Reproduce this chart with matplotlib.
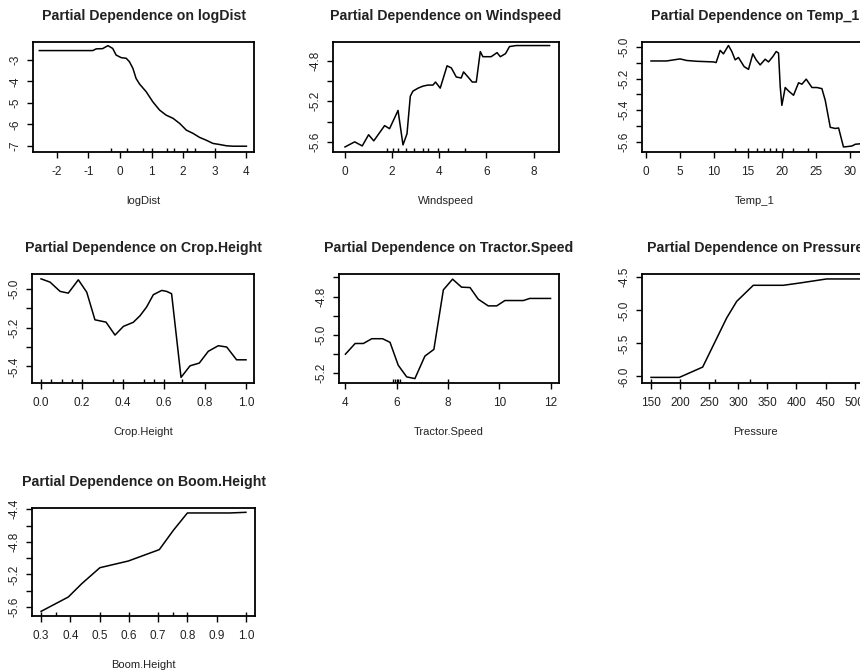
import matplotlib
matplotlib.use('Agg')
import matplotlib.pyplot as plt

plt.rcParams['font.family'] = ['Liberation Sans', 'DejaVu Sans']

# partial dependence curves
logdist_x = [-2.55, -0.86, -0.75, -0.55, -0.44, -0.38, -0.23, -0.12, 0.04, 0.2, 0.3, 0.41,
             0.51, 0.62, 0.83, 1.04, 1.25, 1.46, 1.68, 1.89, 2.1, 2.31, 2.52, 2.73, 2.94,
             3.15, 3.37, 3.58, 4.0]
logdist_y = [-2.56, -2.56, -2.48, -2.47, -2.38, -2.33, -2.46, -2.77, -2.89, -2.92, -3.08, -3.39,
             -3.86, -4.12, -4.48, -4.95, -5.33, -5.57, -5.72, -5.96, -6.27, -6.42, -6.61, -6.74,
             -6.89, -6.94, -7.0, -7.02, -7.02]
logdist_rug = [-0.28, 0.23, 0.72, 1.02, 1.5, 1.7, 2.12, 2.37, 3.0]

wind_x = [0.0, 0.41, 0.73, 1.0, 1.22, 1.68, 1.89, 2.25, 2.46, 2.63, 2.77, 2.88, 3.1, 3.31,
          3.52, 3.73, 3.84, 4.04, 4.33, 4.51, 4.72, 4.93, 5.03, 5.22, 5.4, 5.57, 5.74, 5.85,
          6.2, 6.45, 6.59, 6.81, 6.98, 7.26, 8.68]
wind_y = [-5.65, -5.60, -5.64, -5.53, -5.59, -5.44, -5.47, -5.29, -5.63, -5.52, -5.15, -5.10,
          -5.07, -5.05, -5.04, -5.04, -5.01, -5.07, -4.85, -4.87, -4.96, -4.97, -4.91, -4.96,
          -5.01, -5.01, -4.71, -4.76, -4.76, -4.72, -4.76, -4.73, -4.66, -4.65, -4.65]
wind_rug = [1.77, 2.05, 2.25, 2.6, 2.92, 3.29, 3.5, 3.96, 4.38, 5.1]

temp_x = [0.78, 3.08, 5.04, 6.02, 7.49, 9.94, 10.33, 10.92, 11.4, 12.14, 12.63, 13.12, 13.6,
          14.44, 15.08, 15.71, 16.2, 16.79, 17.52, 18.01, 18.65, 19.14, 19.48, 19.73, 19.97,
          20.46, 20.95, 21.68, 22.42, 22.91, 23.54, 24.38, 25.1, 25.84, 26.33, 27.07, 27.8,
          28.29, 29.0, 29.5, 30.25, 30.74, 31.5]
temp_y = [-5.088, -5.088, -5.075, -5.085, -5.09, -5.094, -5.098, -5.021, -5.043, -4.99, -5.028,
          -5.081, -5.066, -5.124, -5.141, -5.043, -5.081, -5.113, -5.077, -5.094, -5.06, -5.028,
          -5.038, -5.252, -5.369, -5.256, -5.278, -5.305, -5.226, -5.235, -5.203, -5.256, -5.256,
          -5.263, -5.337, -5.508, -5.515, -5.512, -5.632, -5.63, -5.626, -5.615, -5.612]
temp_rug = [13.1, 15.0, 16.3, 17.3, 18.3, 19.1, 20.2, 21.6, 23.8]

crop_x = [0.0, 0.044, 0.093, 0.133, 0.182, 0.223, 0.263, 0.317, 0.361, 0.402, 0.45, 0.483,
          0.515, 0.548, 0.589, 0.613, 0.637, 0.683, 0.727, 0.772, 0.816, 0.865, 0.906, 0.954, 1.0]
crop_y = [-4.947, -4.964, -5.012, -5.021, -4.952, -5.016, -5.159, -5.171, -5.238, -5.193, -5.172,
          -5.138, -5.093, -5.029, -5.007, -5.012, -5.024, -5.457, -5.397, -5.383, -5.322, -5.293,
          -5.3, -5.366, -5.366]
crop_rug = [0.0, 0.05, 0.1, 0.15, 0.2, 0.35, 0.4, 0.5, 0.55, 0.6, 0.69]

tractor_x = [4.0, 4.38, 4.7, 5.03, 5.45, 5.74, 6.06, 6.39, 6.71, 7.1, 7.45, 7.82, 8.18, 8.53,
             8.86, 9.18, 9.57, 9.9, 10.22, 10.94, 11.19, 12.0]
tractor_y = [-5.102, -5.046, -5.046, -5.021, -5.021, -5.04, -5.16, -5.221, -5.23, -5.112, -5.077,
             -4.765, -4.709, -4.751, -4.753, -4.814, -4.849, -4.849, -4.821, -4.821, -4.81, -4.81]
tractor_rug = [5.86, 5.93, 6.0, 6.07, 6.11, 8.0]

pressure_x = [150, 198.7, 238.8, 280, 297.3, 325.8, 377.4, 406, 451.8, 515]
pressure_y = [-6.015, -6.015, -5.859, -5.116, -4.864, -4.621, -4.621, -4.586, -4.525, -4.525]
pressure_rug = [150, 200, 260, 321]

boom_x = [0.3, 0.393, 0.439, 0.501, 0.598, 0.704, 0.752, 0.8, 0.945, 1.0]
boom_y = [-5.653, -5.477, -5.313, -5.117, -5.035, -4.895, -4.658, -4.445, -4.445, -4.437]
boom_rug = [0.3, 0.35, 0.5, 0.6, 0.7, 0.75, 0.8, 1.0]

W, H = 860, 670
fig = plt.figure(figsize=(W / 100, H / 100), dpi=100)
fig.patch.set_facecolor('white')

# name, x, y, rug, box px (left, top, right, bottom), xlim, ylim, xticks, xlabels, yticks, ylabels
panels = [
    ('logDist', logdist_x, logdist_y, logdist_rug, (33, 42, 254, 152), (-2.75, 4.24), (-7.29, -2.16),
     [-2, -1, 0, 1, 2, 3, 4], ['-2', '-1', '0', '1', '2', '3', '4'],
     [-3, -4, -5, -6, -7], ['-3', '-4', '-5', '-6', '-7']),
    ('Windspeed', wind_x, wind_y, wind_rug, (333, 42, 559, 152), (-0.51, 9.08), (-5.70, -4.615),
     [0, 2, 4, 6, 8], ['0', '2', '4', '6', '8'],
     [-4.8, -5.0, -5.2, -5.4, -5.6], ['-4.8', '', '-5.2', '', '-5.6']),
    ('Temp_1', temp_x, temp_y, temp_rug, (642, 42, 868, 152), (-0.54, 32.6), (-5.664, -4.968),
     [0, 5, 10, 15, 20, 25, 30], ['0', '5', '10', '15', '20', '25', '30'],
     [-5.0, -5.1, -5.2, -5.3, -5.4, -5.5, -5.6], ['-5.0', '', '-5.2', '', '-5.4', '', '-5.6']),
    ('Crop.Height', crop_x, crop_y, crop_rug, (32, 274, 254, 383), (-0.044, 1.039), (-5.486, -4.922),
     [0, 0.2, 0.4, 0.6, 0.8, 1.0], ['0.0', '0.2', '0.4', '0.6', '0.8', '1.0'],
     [-5.0, -5.1, -5.2, -5.3, -5.4], ['-5.0', '', '-5.2', '', '-5.4']),
    ('Tractor.Speed', tractor_x, tractor_y, tractor_rug, (339, 274, 559, 383), (3.75, 12.33), (-5.253, -4.682),
     [4, 6, 8, 10, 12], ['4', '6', '8', '10', '12'],
     [-4.7, -4.8, -4.9, -5.0, -5.1, -5.2], ['', '-4.8', '', '-5.0', '', '-5.2']),
    ('Pressure', pressure_x, pressure_y, pressure_rug, (642, 274, 868, 383), (134.5, 523), (-6.10, -4.45),
     [150, 200, 250, 300, 350, 400, 450, 500], ['150', '200', '250', '300', '350', '400', '450', '500'],
     [-4.5, -5.0, -5.5, -6.0], ['-4.5', '-5.0', '-5.5', '-6.0']),
    ('Boom.Height', boom_x, boom_y, boom_rug, (32, 508, 255, 616), (0.269, 1.031), (-5.71, -4.384),
     [0.3, 0.4, 0.5, 0.6, 0.7, 0.8, 0.9, 1.0], ['0.3', '0.4', '0.5', '0.6', '0.7', '0.8', '0.9', '1.0'],
     [-4.4, -4.6, -4.8, -5.0, -5.2, -5.4, -5.6], ['-4.4', '', '-4.8', '', '-5.2', '', '-5.6']),
]

text_col = '#222222'
for name, xs, ys, rug, box, xlim, ylim, xt, xl, yt, yl in panels:
    l, t, r, b = box
    ax = fig.add_axes([l / W, 1 - b / H, (r - l) / W, (b - t) / H])
    ax.plot(xs, ys, color='black', lw=1.1)
    ax.vlines(rug, 0, 0.035, transform=ax.get_xaxis_transform(), color='black', lw=1.0)
    ax.set_xlim(*xlim)
    ax.set_ylim(*ylim)
    ax.set_xticks(xt)
    ax.set_xticklabels(xl)
    ax.set_yticks(yt)
    ax.set_yticklabels(yl, rotation=90, va='center')
    ax.tick_params(length=4, width=1.0, colors='black', labelcolor=text_col, labelsize=8.5)
    ax.tick_params(axis='x', pad=6)
    ax.tick_params(axis='y', pad=4)
    for s in ax.spines.values():
        s.set_linewidth(1.3)
    ax.set_title('Partial Dependence on ' + name, fontsize=10.2, fontweight='bold', color=text_col, pad=16)
    ax.set_xlabel(name, fontsize=8, color=text_col, labelpad=13)

fig.savefig('out.png', dpi=100, facecolor='white')
